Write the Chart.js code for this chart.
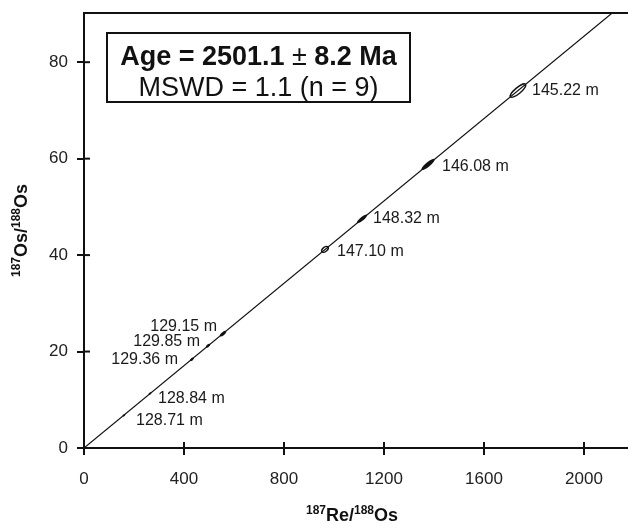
<!DOCTYPE html>
<html>
<head>
<meta charset="utf-8">
<script src="https://cdn.jsdelivr.net/npm/chart.js@4.4.1/dist/chart.umd.min.js"></script>
<style>
  html, body { margin: 0; padding: 0; background: #fff; }
  #wrap { width: 628px; height: 524px; }
</style>
</head>
<body>
<div id="wrap"><canvas id="chart" width="628" height="524"></canvas></div>
<script>
const depths = ["145.22 m", "146.08 m", "148.32 m", "147.10 m", "129.15 m", "129.85 m", "129.36 m", "128.84 m", "128.71 m"];
const reOs = [1736, 1376, 1112, 964, 556, 496, 432, 264, 160];
const osOs = [74.1, 58.8, 47.5, 41.2, 23.7, 21.2, 18.4, 11.3, 6.8];
// 2-sigma errors (half extent of the ellipses)
const errRe = [30, 26, 20, 12, 12, 8, 7, 5, 5];
const errOs = [1.3, 1.1, 0.85, 0.5, 0.5, 0.34, 0.3, 0.2, 0.2];

// regression line end points
const isoX = [0, 2176];
const isoY = [0, 92.9];

const xTicks = [0, 400, 800, 1200, 1600, 2000];
const yTicks = [0, 20, 40, 60, 80];

const FONT = "'Liberation Sans', Arial, Helvetica, sans-serif";

// per point drawing style
const ellipseStyle = [
  { w: 3.0, open: true,  dx: 14,  dy: 0,  align: "left" },
  { w: 2.2, open: false, dx: 14,  dy: 2,  align: "left" },
  { w: 1.8, open: false, dx: 11,  dy: 0,  align: "left" },
  { w: 2.2, open: true,  dx: 12,  dy: 2,  align: "left" },
  { w: 1.6, open: false, dx: -6,  dy: -7, align: "right" },
  { w: 1.4, open: false, dx: -8,  dy: -4, align: "right" },
  { w: 1.2, open: false, dx: -14, dy: 0,  align: "right" },
  { w: 1.0, open: false, dx: 8,   dy: 5,  align: "left" },
  { w: 1.0, open: false, dx: 12,  dy: 5,  align: "left" }
];

const isochronPlugin = {
  id: "isochron",
  afterDatasetsDraw(chart) {
    const ctx = chart.ctx;
    const xs = chart.scales.x;
    const ys = chart.scales.y;
    const area = chart.chartArea;
    const meta = chart.getDatasetMeta(1);

    ctx.save();
    // top frame line
    ctx.strokeStyle = "#111";
    ctx.lineWidth = 2;
    ctx.beginPath();
    ctx.moveTo(area.left - 1, area.top);
    ctx.lineTo(area.right, area.top);
    ctx.stroke();

    // inner half of the tick marks
    ctx.lineWidth = 2;
    xTicks.forEach(v => {
      const px = xs.getPixelForValue(v);
      ctx.beginPath();
      ctx.moveTo(px, area.bottom);
      ctx.lineTo(px, area.bottom - 6);
      ctx.stroke();
    });
    yTicks.forEach(v => {
      const py = ys.getPixelForValue(v);
      ctx.beginPath();
      ctx.moveTo(area.left, py);
      ctx.lineTo(area.left + 6, py);
      ctx.stroke();
    });

    // error ellipses and depth labels
    meta.data.forEach((pt, i) => {
      const st = ellipseStyle[i];
      const x1 = xs.getPixelForValue(reOs[i] - errRe[i]);
      const y1 = ys.getPixelForValue(osOs[i] - errOs[i]);
      const x2 = xs.getPixelForValue(reOs[i] + errRe[i]);
      const y2 = ys.getPixelForValue(osOs[i] + errOs[i]);
      const a = Math.hypot(x2 - x1, y2 - y1) / 2;
      const rot = Math.atan2(y2 - y1, x2 - x1);
      ctx.beginPath();
      ctx.ellipse(pt.x, pt.y, a, st.w, rot, 0, Math.PI * 2);
      ctx.lineWidth = 1.4;
      ctx.strokeStyle = "#111";
      if (st.open) {
        ctx.stroke();
      } else {
        ctx.fillStyle = "#111";
        ctx.fill();
      }

      ctx.fillStyle = "#1a1a1a";
      ctx.font = "16px " + FONT;
      ctx.textAlign = st.align;
      ctx.textBaseline = "middle";
      ctx.fillText(depths[i], pt.x + st.dx, pt.y + st.dy);
    });

    // result box
    const bx = 107, by = 33, bw = 303, bh = 69;
    ctx.lineWidth = 2;
    ctx.strokeStyle = "#111";
    ctx.strokeRect(bx, by, bw, bh);
    const cx = bx + bw / 2;
    ctx.fillStyle = "#111";
    ctx.textBaseline = "alphabetic";
    ctx.textAlign = "left";
    const p1 = "Age = 2501.1 ";
    const p2 = "\u00b1";
    const p3 = " 8.2 Ma";
    ctx.font = "bold 27px " + FONT;
    const w1 = ctx.measureText(p1).width;
    const w3 = ctx.measureText(p3).width;
    ctx.font = "27px " + FONT;
    const w2 = ctx.measureText(p2).width;
    let sx = cx - (w1 + w2 + w3) / 2;
    ctx.font = "bold 27px " + FONT;
    ctx.fillText(p1, sx, 65);
    ctx.font = "27px " + FONT;
    ctx.fillText(p2, sx + w1, 65);
    ctx.font = "bold 27px " + FONT;
    ctx.fillText(p3, sx + w1 + w2, 65);
    ctx.font = "27px " + FONT;
    ctx.textAlign = "center";
    ctx.fillText("MSWD = 1.1 (n = 9)", cx, 96);

    // axis titles with superscript mass numbers
    const parts = [["187", true], ["Re/", false], ["188", true], ["Os", false]];
    const partsY = [["187", true], ["Os/", false], ["188", true], ["Os", false]];
    function drawTitle(list, x, y, rotate) {
      ctx.save();
      ctx.translate(x, y);
      if (rotate) ctx.rotate(-Math.PI / 2);
      ctx.textAlign = "left";
      ctx.textBaseline = "alphabetic";
      let total = 0;
      const widths = list.map(([t, sup]) => {
        ctx.font = "bold " + (sup ? 12 : 18) + "px " + FONT;
        const w = ctx.measureText(t).width;
        total += w;
        return w;
      });
      let px = -total / 2;
      list.forEach(([t, sup], k) => {
        ctx.font = "bold " + (sup ? 12 : 18) + "px " + FONT;
        ctx.fillText(t, px, sup ? -7 : 0);
        px += widths[k];
      });
      ctx.restore();
    }
    drawTitle(parts, (area.left + area.right) / 2 - 4, 521, false);
    drawTitle(partsY, 27, (area.top + area.bottom) / 2, true);

    ctx.restore();
  }
};

new Chart(document.getElementById("chart"), {
  type: "scatter",
  data: {
    datasets: [
      {
        label: "Isochron",
        data: isoX.map((x, i) => ({ x: x, y: isoY[i] })),
        showLine: true,
        borderColor: "#111",
        borderWidth: 1.2,
        pointRadius: 0
      },
      {
        label: "Samples",
        data: reOs.map((x, i) => ({ x: x, y: osOs[i] })),
        pointRadius: 0,
        borderWidth: 0
      }
    ]
  },
  options: {
    responsive: false,
    animation: false,
    layout: {
      padding: { top: 13, right: 0, left: 0, bottom: 0 }
    },
    plugins: {
      legend: { display: false },
      tooltip: { enabled: false }
    },
    scales: {
      x: {
        type: "linear",
        min: 0,
        max: 2176,
        afterFit: s => { s.height = 76; s.paddingLeft = 0; s.paddingRight = 0; },
        afterBuildTicks: s => { s.ticks = xTicks.map(v => ({ value: v })); },
        border: { display: true, color: "#111", width: 2 },
        grid: {
          drawOnChartArea: false,
          drawTicks: true,
          tickLength: 7,
          color: "#111",
          lineWidth: 2
        },
        ticks: {
          padding: 14,
          color: "#222",
          font: { family: FONT, size: 17 },
          maxRotation: 0,
          callback: v => String(v)
        }
      },
      y: {
        type: "linear",
        min: 0,
        max: 90.2,
        afterFit: s => { s.width = 84; s.paddingTop = 0; s.paddingBottom = 0; },
        afterBuildTicks: s => { s.ticks = yTicks.map(v => ({ value: v })); },
        border: { display: true, color: "#111", width: 2 },
        grid: {
          drawOnChartArea: false,
          drawTicks: true,
          tickLength: 7,
          color: "#111",
          lineWidth: 2
        },
        ticks: {
          padding: 9,
          color: "#222",
          font: { family: FONT, size: 17 },
          callback: v => String(v)
        }
      }
    }
  },
  plugins: [isochronPlugin]
});
</script>
</body>
</html>
